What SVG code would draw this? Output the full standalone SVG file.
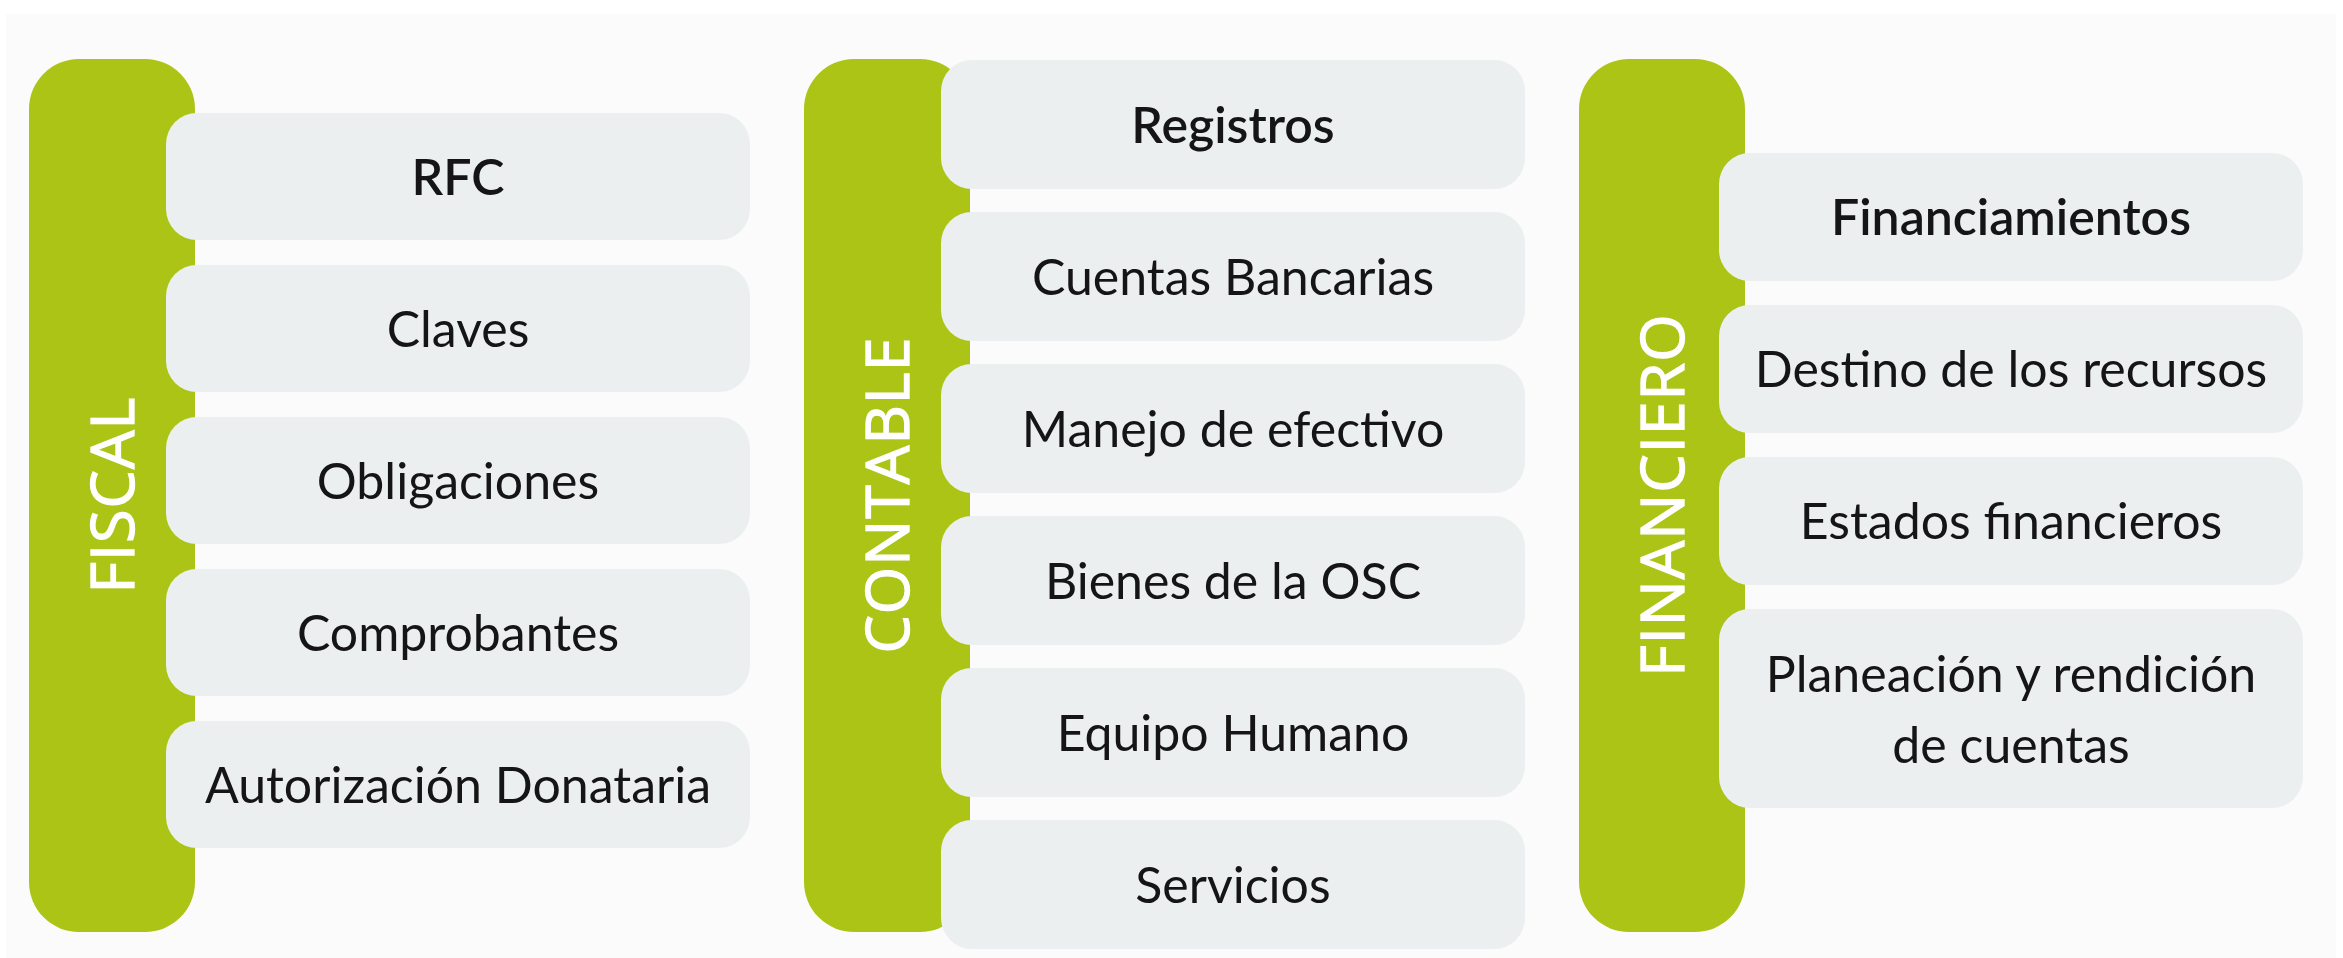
<svg xmlns="http://www.w3.org/2000/svg" width="2343" height="958" viewBox="0 0 2343 958">
<style>
.bar{fill:#acc416}
.box{fill:#eceff0}
.t{font-family:Lato,"Open Sans","Liberation Sans",sans-serif;font-size:50px;fill:#151515;text-anchor:middle}
.b{font-weight:600}
.v{font-family:"Open Sans","Liberation Sans",sans-serif;font-size:61px;font-weight:400;fill:#ffffff;stroke:#ffffff;stroke-width:1.3;letter-spacing:1px;text-anchor:middle}
</style>
<rect x="0" y="0" width="2343" height="958" fill="#ffffff"/>
<rect x="6" y="14" width="2330" height="944" fill="#fbfbfb"/>
<g id="fiscal">
<rect class="bar" x="29" y="59" width="166" height="873" rx="50" ry="50"/>
<text class="v" transform="translate(112,495) rotate(-90)" y="22">FISCAL</text>
</g>
<g id="rfc"><rect class="box" x="166" y="113" width="584" height="127" rx="31"/><text class="t b" x="458" y="195">RFC</text></g>
<g id="claves"><rect class="box" x="166" y="265" width="584" height="127" rx="31"/><text class="t" x="458" y="347">Claves</text></g>
<g id="obligaciones"><rect class="box" x="166" y="417" width="584" height="127" rx="31"/><text class="t" x="458" y="499">Obligaciones</text></g>
<g id="comprobantes"><rect class="box" x="166" y="569" width="584" height="127" rx="31"/><text class="t" x="458" y="651">Comprobantes</text></g>
<g id="autorizacion"><rect class="box" x="166" y="721" width="584" height="127" rx="31"/><text class="t" x="458" y="803">Autorización Donataria</text></g>

<g id="contable">
<rect class="bar" x="804" y="59" width="166" height="873" rx="50" ry="50"/>
<text class="v" transform="translate(887,495) rotate(-90)" y="22">CONTABLE</text>
</g>
<g id="registros"><rect class="box" x="941" y="60" width="584" height="129" rx="31"/><text class="t b" x="1233" y="143">Registros</text></g>
<g id="cuentas"><rect class="box" x="941" y="212" width="584" height="129" rx="31"/><text class="t" x="1233" y="295">Cuentas Bancarias</text></g>
<g id="manejo"><rect class="box" x="941" y="364" width="584" height="129" rx="31"/><text class="t" x="1233" y="447">Manejo de efectivo</text></g>
<g id="bienes"><rect class="box" x="941" y="516" width="584" height="129" rx="31"/><text class="t" x="1233" y="599">Bienes de la OSC</text></g>
<g id="equipo"><rect class="box" x="941" y="668" width="584" height="129" rx="31"/><text class="t" x="1233" y="751">Equipo Humano</text></g>
<g id="servicios"><rect class="box" x="941" y="820" width="584" height="129" rx="31"/><text class="t" x="1233" y="903">Servicios</text></g>

<g id="financiero">
<rect class="bar" x="1579" y="59" width="166" height="873" rx="50" ry="50"/>
<text class="v" transform="translate(1662,495) rotate(-90)" y="22">FINANCIERO</text>
</g>
<g id="financiamientos"><rect class="box" x="1719" y="153" width="584" height="128" rx="31"/><text class="t b" x="2011" y="235">Financiamientos</text></g>
<g id="destino"><rect class="box" x="1719" y="305" width="584" height="128" rx="31"/><text class="t" x="2011" y="387">Destino de los recursos</text></g>
<g id="estados"><rect class="box" x="1719" y="457" width="584" height="128" rx="31"/><text class="t" x="2011" y="539">Estados financieros</text></g>
<g id="planeacion"><rect class="box" x="1719" y="609" width="584" height="199" rx="31"/><text class="t" x="2011" y="692">Planeación y rendición</text><text class="t" x="2011" y="763">de cuentas</text></g>
<g id="connectors"></g>
</svg>
